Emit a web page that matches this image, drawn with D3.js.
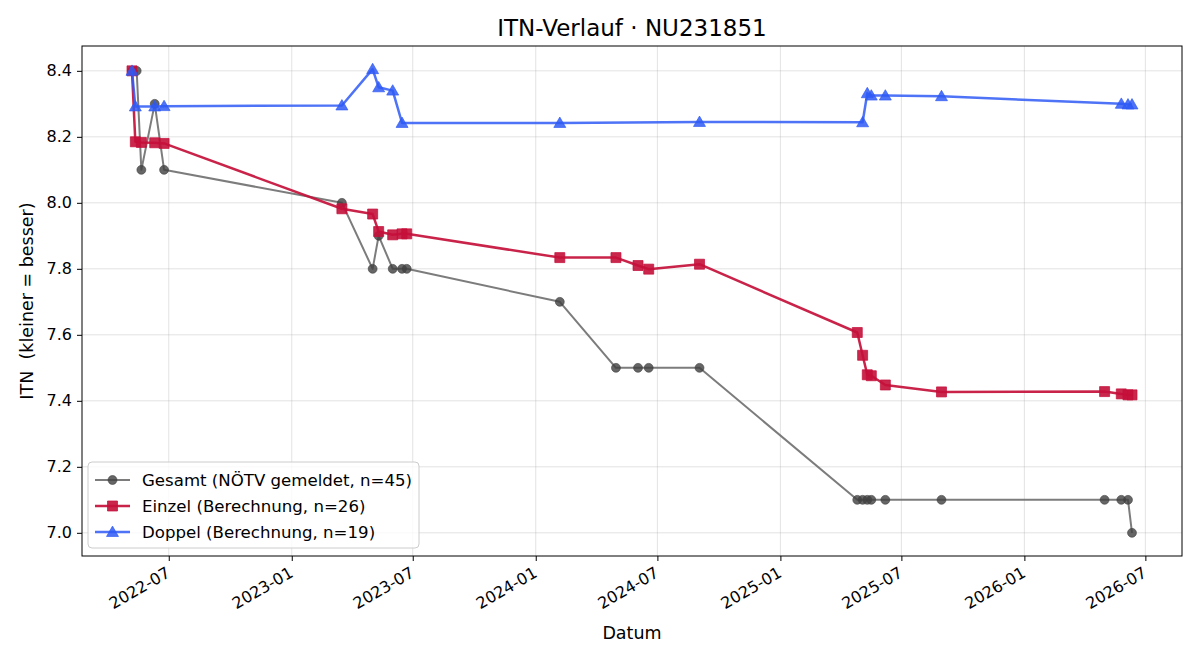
<!DOCTYPE html>
<html lang="de">
<head>
<meta charset="UTF-8">
<title>ITN-Verlauf</title>
<script src="https://d3js.org/d3.v7.min.js"></script>
<style>
  body { margin: 0; background: #fff; }
  svg { font-family: "DejaVu Sans", sans-serif; }
  .grid line { stroke: #b0b0b0; stroke-opacity: 0.35; }
  .axis text { font-size: 16px; fill: #000; font-family: "DejaVu Sans", sans-serif; }
</style>
</head>
<body>
<svg id="chart"></svg>
<script>
const width = 1200, height = 660;
const margin = { top: 46, right: 18, bottom: 104, left: 82 };

// Gesamt (NÖTV gemeldet)
const gesamtDates = ["2022-05-07","2022-05-14","2022-05-21","2022-06-10","2022-06-24","2023-03-17","2023-05-02","2023-05-11","2023-06-01","2023-06-15","2023-06-22","2024-02-06","2024-04-30","2024-06-02","2024-06-18","2024-09-02","2025-04-26","2025-05-04","2025-05-11","2025-05-17","2025-06-07","2025-08-30","2026-05-01","2026-05-26","2026-06-05","2026-06-11"];
const gesamtValues = [8.4, 8.4, 8.1, 8.3, 8.1, 8.0, 7.8, 7.9, 7.8, 7.8, 7.8, 7.7, 7.5, 7.5, 7.5, 7.5, 7.1, 7.1, 7.1, 7.1, 7.1, 7.1, 7.1, 7.1, 7.1, 7.0];

// Einzel (Berechnung)
const einzelDates = ["2022-05-07","2022-05-12","2022-05-21","2022-06-10","2022-06-24","2023-03-17","2023-05-02","2023-05-11","2023-06-01","2023-06-15","2023-06-22","2024-02-06","2024-04-30","2024-06-02","2024-06-18","2024-09-02","2025-04-26","2025-05-04","2025-05-11","2025-05-17","2025-06-07","2025-08-30","2026-05-01","2026-05-26","2026-06-05","2026-06-11"];
const einzelValues = [8.40, 8.185, 8.183, 8.182, 8.18, 7.982, 7.966, 7.913, 7.903, 7.906, 7.906, 7.834, 7.834, 7.81, 7.799, 7.814, 7.607, 7.538, 7.479, 7.476, 7.448, 7.427, 7.428, 7.421, 7.418, 7.418];

// Doppel (Berechnung)
const doppelDates = ["2022-05-07","2022-05-12","2022-06-10","2022-06-24","2023-03-17","2023-05-02","2023-05-11","2023-06-01","2023-06-15","2024-02-06","2024-09-02","2025-05-04","2025-05-11","2025-05-17","2025-06-07","2025-08-30","2026-05-26","2026-06-05","2026-06-11"];
const doppelValues = [8.40, 8.292, 8.292, 8.293, 8.295, 8.405, 8.35, 8.34, 8.242, 8.242, 8.245, 8.244, 8.332, 8.325, 8.325, 8.323, 8.300, 8.298, 8.298];

const xTicks = ["2022-07-01","2023-01-01","2023-07-01","2024-01-01","2024-07-01","2025-01-01","2025-07-01","2026-01-01","2026-07-01"];
const yTicks = [7.0, 7.2, 7.4, 7.6, 7.8, 8.0, 8.2, 8.4];

const parse = d3.utcParse("%Y-%m-%d");
const fmt = d3.utcFormat("%Y-%m");

const series = [
  { name: "Gesamt (NÖTV gemeldet, n=45)", dates: gesamtDates, values: gesamtValues,
    line: "#6e6e6e", lineOpacity: 0.9, fill: "#404040", fillOpacity: 0.8, width: 2, marker: "circle", size: 62 },
  { name: "Einzel (Berechnung, n=26)", dates: einzelDates, values: einzelValues,
    line: "#c4103a", lineOpacity: 0.92, fill: "#c4103a", fillOpacity: 0.9, width: 2.5, marker: "square", size: 100 },
  { name: "Doppel (Berechnung, n=19)", dates: doppelDates, values: doppelValues,
    line: "#2f5bf5", lineOpacity: 0.85, fill: "#2f5bf5", fillOpacity: 0.85, width: 2.5, marker: "triangle", size: 62 }
];
series.forEach(s => s.points = s.dates.map((d, i) => ({ date: parse(d), value: s.values[i] })));

const allPts = series.flatMap(s => s.points);
const [d0, d1] = d3.extent(allPts, p => p.date);
const [v0, v1] = d3.extent(allPts, p => p.value);
const dPad = (d1 - d0) * 0.05, vPad = (v1 - v0) * 0.05;

const x = d3.scaleUtc()
  .domain([new Date(+d0 - dPad), new Date(+d1 + dPad)])
  .range([margin.left, width - margin.right]);
const y = d3.scaleLinear()
  .domain([v0 - vPad, v1 + vPad])
  .range([height - margin.bottom, margin.top]);

const svg = d3.select("#chart").attr("width", width).attr("height", height);

// grid
const grid = svg.append("g").attr("class", "grid");
grid.selectAll(".gx").data(xTicks).enter().append("line")
  .attr("x1", d => x(parse(d))).attr("x2", d => x(parse(d)))
  .attr("y1", margin.top).attr("y2", height - margin.bottom);
grid.selectAll(".gy").data(yTicks).enter().append("line")
  .attr("x1", margin.left).attr("x2", width - margin.right)
  .attr("y1", d => y(d)).attr("y2", d => y(d));

// lines + markers
const line = d3.line().x(p => x(p.date)).y(p => y(p.value));
const symbols = { circle: d3.symbolCircle, square: d3.symbolSquare, triangle: d3.symbolTriangle };

series.forEach(s => {
  svg.append("path").datum(s.points)
    .attr("d", line)
    .attr("fill", "none")
    .attr("stroke", s.line)
    .attr("stroke-opacity", s.lineOpacity)
    .attr("stroke-width", s.width)
    .attr("stroke-linejoin", "round");
  svg.append("g").selectAll("path").data(s.points).enter().append("path")
    .attr("d", d3.symbol().type(symbols[s.marker]).size(s.size))
    .attr("transform", p => `translate(${x(p.date)},${y(p.value) + (s.marker === "triangle" ? 1 : 0)})`)
    .attr("fill", s.fill)
    .attr("fill-opacity", s.fillOpacity)
    .attr("stroke", s.fill)
    .attr("stroke-opacity", s.fillOpacity)
    .attr("stroke-width", 0.8);
});

// axes
const xAxis = svg.append("g").attr("class", "axis")
  .attr("transform", `translate(0,${height - margin.bottom})`)
  .call(d3.axisBottom(x).tickValues(xTicks.map(parse)).tickFormat(fmt).tickSize(5).tickSizeOuter(0));
xAxis.selectAll("text")
  .attr("text-anchor", "end")
  .attr("x", 0).attr("y", 0).attr("dy", 0)
  .attr("transform", "translate(2,20) rotate(-30)");

const yAxis = svg.append("g").attr("class", "axis")
  .attr("transform", `translate(${margin.left},0)`)
  .call(d3.axisLeft(y).tickValues(yTicks).tickFormat(d3.format(".1f")).tickSize(5).tickPadding(5).tickSizeOuter(0));

svg.selectAll(".axis path.domain").remove();

// frame
svg.append("rect")
  .attr("x", margin.left).attr("y", margin.top)
  .attr("width", width - margin.left - margin.right)
  .attr("height", height - margin.top - margin.bottom)
  .attr("fill", "none").attr("stroke", "#000").attr("stroke-width", 1);

// titles
svg.append("text")
  .attr("x", (margin.left + width - margin.right) / 2).attr("y", 36)
  .attr("text-anchor", "middle").attr("font-size", "23px")
  .text("ITN-Verlauf · NU231851");
svg.append("text")
  .attr("x", (margin.left + width - margin.right) / 2).attr("y", 639)
  .attr("text-anchor", "middle").attr("font-size", "17.5px")
  .text("Datum");
svg.append("text")
  .attr("transform", `translate(33,${(margin.top + height - margin.bottom) / 2}) rotate(-90)`)
  .attr("text-anchor", "middle").attr("font-size", "17.5px")
  .style("white-space", "pre")
  .text("ITN  (kleiner = besser)");

// legend
const legend = svg.append("g").attr("transform", "translate(88,462)");
legend.append("rect")
  .attr("width", 331).attr("height", 86).attr("rx", 4)
  .attr("fill", "#fff").attr("fill-opacity", 0.8)
  .attr("stroke", "#cccccc");
series.forEach((s, i) => {
  const row = legend.append("g").attr("transform", `translate(0,${18 + i * 26})`);
  row.append("line").attr("x1", 7).attr("x2", 42)
    .attr("stroke", s.line).attr("stroke-opacity", s.lineOpacity).attr("stroke-width", s.width);
  row.append("path")
    .attr("d", d3.symbol().type(symbols[s.marker]).size(s.size))
    .attr("transform", `translate(24.5,${s.marker === "triangle" ? 1 : 0})`)
    .attr("fill", s.fill).attr("fill-opacity", s.fillOpacity)
    .attr("stroke", s.fill).attr("stroke-opacity", s.fillOpacity).attr("stroke-width", 0.8);
  row.append("text").attr("x", 54).attr("dy", "0.35em")
    .attr("font-size", "16.6px").text(s.name);
});
</script>
</body>
</html>
